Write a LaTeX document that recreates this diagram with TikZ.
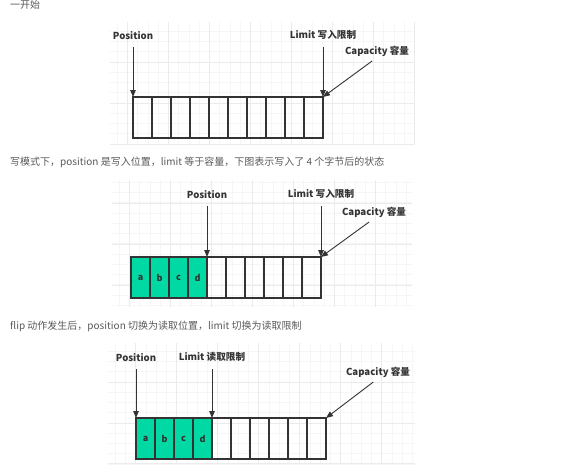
\documentclass[tikz,border=0pt]{standalone}
\usepackage{fontspec}
\setmainfont{Noto Sans CJK SC}
\usetikzlibrary{positioning,arrows.meta}

\definecolor{bufgreen}{RGB}{0,217,163}
\definecolor{inkgray}{RGB}{51,51,51}
\definecolor{notegray}{RGB}{90,90,90}

\tikzset{
    cell/.style={draw=inkgray, line width=1.2pt, minimum width=19pt, minimum height=41pt,
        inner sep=0pt, outer sep=0pt, text=inkgray, font=\bfseries\fontsize{9}{9}\selectfont},
    full/.style={cell, fill=bufgreen},
    tag/.style={text=inkgray, inner sep=1pt, font=\bfseries\fontsize{9.6}{9.6}\selectfont},
    ptr/.style={draw=inkgray, line width=0.9pt, shorten <=6pt, -{Triangle[length=7pt,width=5.5pt]}},
    note/.style={anchor=west, inner sep=0pt, text=notegray, font=\fontsize{10}{10}\selectfont},
    fine/.style={draw=gray!7, line width=0.5pt},
    major/.style={draw=gray!16, line width=0.6pt}
}

\begin{document}
\begin{tikzpicture}[x=1pt, y=-1pt]
        \useasboundingbox[fill=white] (0,0) rectangle (568,471);

        % fond quadrille
        \foreach \x in {117,127.25,...,415} \draw[fine] (\x,22) -- (\x,145);
        \foreach \y in {31,41.25,...,145} \draw[fine] (110,\y) -- (415,\y);
        \foreach \x in {127,168,...,415} \draw[major] (\x,22) -- (\x,145);
        \foreach \y in {62,103,144} \draw[major] (110,\y) -- (415,\y);

        \foreach \x in {119,129.25,...,412} \draw[fine] (\x,180) -- (\x,307);
        \foreach \y in {182,192.25,...,307} \draw[fine] (112,\y) -- (412,\y);
        \foreach \x in {129,170,...,412} \draw[major] (\x,180) -- (\x,307);
        \foreach \y in {203,244,285} \draw[major] (112,\y) -- (412,\y);

        \foreach \x in {115,125.25,...,415} \draw[fine] (\x,343) -- (\x,465);
        \foreach \y in {351,361.25,...,465} \draw[fine] (108,\y) -- (415,\y);
        \foreach \x in {135,176,...,415} \draw[major] (\x,343) -- (\x,465);
        \foreach \y in {382,423,463} \draw[major] (108,\y) -- (415,\y);

        % textos
        \node[note] (txt1) at (10,5) {一开始};
        \node[note] (txt2) at (10,162) {写模式下，position 是写入位置，limit 等于容量，下图表示写入了 4 个字节后的状态};
        \node[note] (txt3) at (10,326) {flip 动作发生后，position 切换为读取位置，limit 切换为读取限制};

        % buffer vazio
        \node[cell, anchor=north west] (a1) at (133,97) {};
        \foreach \i [remember=\i as \j (initially 1)] in {2,...,10}
            \node[cell, right=0pt of a\j] (a\i) {};
        \node[tag, above=56pt of a1.north west] (pos1) {Position};
        \node[tag, above=56pt of a10.north east] (lim1) {Limit 写入限制};
        \node[tag] (cap1) at (377,51) {Capacity 容量};
        \draw[ptr] (pos1.south) -- (a1.north west);
        \draw[ptr] (lim1.south) -- (a10.north east);
        \draw[ptr] (cap1.south) -- (a10.north east);

        % modo escrita
        \node[full, anchor=north west] (b1) at (131,257) {a};
        \node[full, right=0pt of b1] (b2) {b};
        \node[full, right=0pt of b2] (b3) {c};
        \node[full, right=0pt of b3] (b4) {d};
        \foreach \i [remember=\i as \j (initially 4)] in {5,...,10}
            \node[cell, right=0pt of b\j] (b\i) {};
        \node[tag, above=57pt of b4.north east] (pos2) {Position};
        \node[tag, above=57pt of b10.north east] (lim2) {Limit 写入限制};
        \node[tag] (cap2) at (374,212) {Capacity 容量};
        \draw[ptr] (pos2.south) -- (b4.north east);
        \draw[ptr] (lim2.south) -- (b10.north east);
        \draw[ptr] (cap2.south) -- (b10.north east);

        % depois do flip
        \node[full, anchor=north west] (c1) at (136,418) {a};
        \node[full, right=0pt of c1] (c2) {b};
        \node[full, right=0pt of c2] (c3) {c};
        \node[full, right=0pt of c3] (c4) {d};
        \foreach \i [remember=\i as \j (initially 4)] in {5,...,10}
            \node[cell, right=0pt of c\j] (c\i) {};
        \node[tag, above=55pt of c1.north west] (pos3) {Position};
        \node[tag, above=55pt of c4.north east] (lim3) {Limit 读取限制};
        \node[tag] (cap3) at (378,372) {Capacity 容量};
        \draw[ptr] (pos3.south) -- (c1.north west);
        \draw[ptr] (lim3.south) -- (c4.north east);
        \draw[ptr] (cap3.south) -- (c10.north east);
    \end{tikzpicture}
\end{document}
